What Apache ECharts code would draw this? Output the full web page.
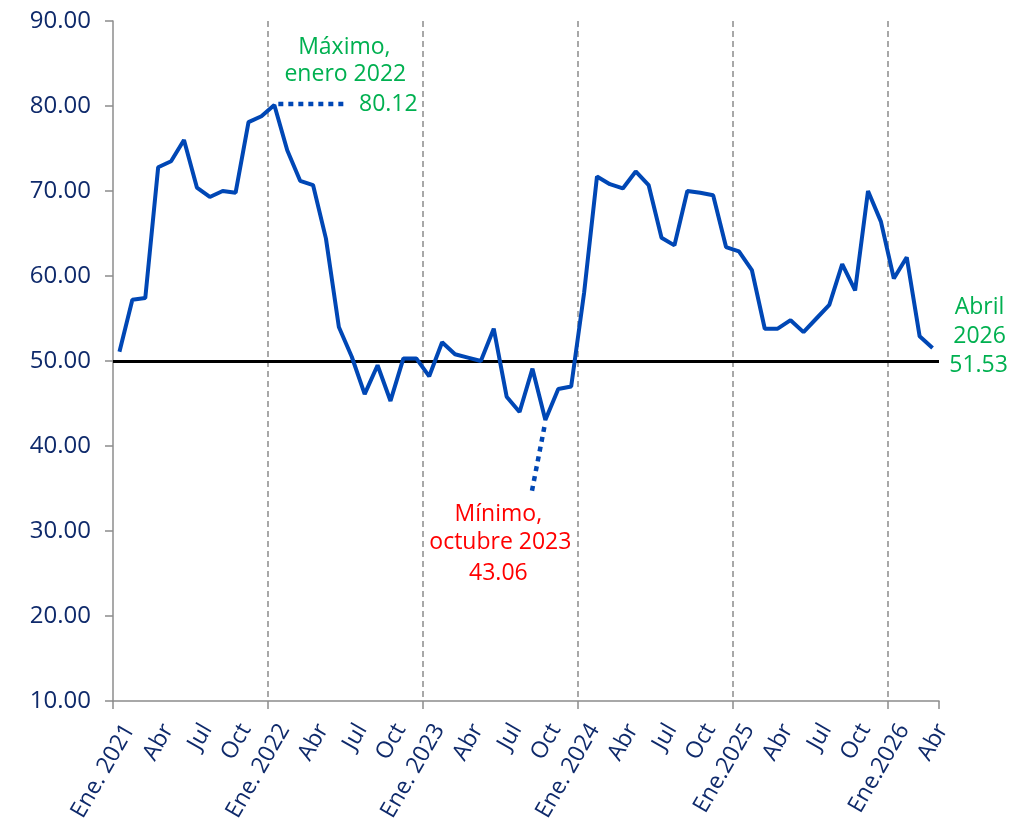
<!DOCTYPE html>
<html>
<head>
<meta charset="utf-8">
<script src="https://cdn.jsdelivr.net/npm/echarts@6/dist/echarts.min.js"></script>
<style>
html,body{margin:0;padding:0;background:#fff;}
#chart{width:1024px;height:827px;}
</style>
</head>
<body>
<div id="chart"></div>
<script>
// ---- data ----
const months = ['Ene','Feb','Mar','Abr','May','Jun','Jul','Ago','Sep','Oct','Nov','Dic'];
const years = [2021, 2022, 2023, 2024, 2025, 2026];
const tickLabels = {
  0: 'Ene. 2021', 12: 'Ene. 2022', 24: 'Ene. 2023', 36: 'Ene. 2024', 48: 'Ene.2025', 60: 'Ene.2026'
};
const quarterLabels = ['Ene', 'Abr', 'Jul', 'Oct'];
const values = [
  51.1, 57.2, 57.4, 72.8, 73.5, 76.0, 70.4, 69.3, 70.0, 69.8, 78.1, 78.8,
  80.12, 74.8, 71.2, 70.7, 64.4, 54.0, 50.5, 46.1, 49.5, 45.3, 50.3, 50.3,
  48.2, 52.2, 50.8, 50.4, 50.0, 53.8, 45.8, 44.0, 49.1, 43.06, 46.7, 47.0,
  58.0, 71.7, 70.8, 70.3, 72.3, 70.7, 64.5, 63.6, 70.0, 69.8, 69.5, 63.4,
  62.9, 60.7, 53.8, 53.8, 54.8, 53.4, 55.0, 56.6, 61.4, 58.3, 70.0, 66.4,
  59.7, 62.2, 52.9, 51.53
];
const threshold = 50;
const maxIndex = 12, minIndex = 33, lastIndex = 63;
const maxText = ['Máximo,', 'enero 2022'];
const maxValueText = '80.12';
const minText = ['Mínimo,', 'octubre 2023', '43.06'];
const lastText = ['Abril', '2026', '51.53'];

const categories = [];
years.forEach(y => months.forEach((m, i) => {
  if (categories.length < values.length) categories.push(m + ' ' + y);
}));

const navy = '#0f2a6b';
const green = '#00b050';
const red = '#ff0000';
const blue = '#0047b5';
const axisGray = '#8c8c8c';
const font = '"Open Sans", "Noto Sans", sans-serif';

const chart = echarts.init(document.getElementById('chart'));
chart.setOption({
  animation: false,
  backgroundColor: '#fff',
  grid: { left: 113, right: 85, top: 21, bottom: 126, containLabel: false },
  xAxis: {
    type: 'category',
    data: categories,
    boundaryGap: true,
    axisLine: { lineStyle: { color: axisGray, width: 1.5 } },
    axisTick: { show: true, interval: (i) => i % 12 === 0, length: 8, lineStyle: { color: axisGray, width: 1.5 } },
    splitLine: {
      show: true, showMinLine: false, showMaxLine: false,
      interval: (i) => i % 12 === 0,
      lineStyle: { color: axisGray, width: 1.5, type: [6, 4] }
    },
    axisLabel: {
      interval: (i) => i % 3 === 0,
      rotate: 60,
      margin: 19,
      verticalAlign: 'top',
      color: navy,
      fontFamily: font,
      fontSize: 23,
      formatter: (v, i) => tickLabels[i] !== undefined ? tickLabels[i] : quarterLabels[(i % 12) / 3]
    }
  },
  yAxis: {
    type: 'value',
    min: 10, max: 90, interval: 10,
    axisLine: { show: true, lineStyle: { color: axisGray, width: 1.5 } },
    axisTick: { show: true, length: 8, lineStyle: { color: axisGray, width: 1.5 } },
    splitLine: { show: false },
    axisLabel: { color: navy, fontFamily: font, fontSize: 24, margin: 22, formatter: (v) => v.toFixed(2) }
  },
  series: [{
    type: 'line',
    data: values,
    symbol: 'none',
    lineStyle: { color: blue, width: 4 },
    z: 3,
    markLine: {
      silent: true,
      symbol: 'none',
      label: { show: false },
      lineStyle: { color: '#000', width: 3, type: 'solid' },
      data: [{ yAxis: threshold }],
      z: 2
    }
  }]
});

function px(i, v) { return chart.convertToPixel({ gridIndex: 0 }, [i, v]); }
const pMax = px(maxIndex, values[maxIndex]);
const pMin = px(minIndex, values[minIndex]);
const pLast = px(lastIndex, values[lastIndex]);
const txt = (x, y, s, color) => ({
  type: 'text', x: x, y: y,
  style: { text: s, fill: color, font: '23px ' + font, textAlign: 'center', textVerticalAlign: 'middle' }
});
const lead = (x1, y1, x2, y2) => ({
  type: 'line', shape: { x1, y1, x2, y2 },
  style: { stroke: blue, lineWidth: 4.5, lineDash: [5, 5] }
});
chart.setOption({
  graphic: [
    lead(pMax[0] + 4, pMax[1] - 1, pMax[0] + 72, pMax[1] - 1),
    txt(pMax[0] + 70, pMax[1] - 58, maxText[0], green),
    txt(pMax[0] + 71, pMax[1] - 31, maxText[1], green),
    txt(pMax[0] + 114, pMax[1] - 1, maxValueText, green),
    lead(pMin[0] - 1, pMin[1] + 7, pMin[0] - 14, pMin[1] + 74),
    txt(pMin[0] - 47, pMin[1] + 94, minText[0], red),
    txt(pMin[0] - 45, pMin[1] + 122, minText[1], red),
    txt(pMin[0] - 47, pMin[1] + 153, minText[2], red),
    txt(pLast[0] + 47, pLast[1] - 41, lastText[0], green),
    txt(pLast[0] + 47, pLast[1] - 12, lastText[1], green),
    txt(pLast[0] + 46, pLast[1] + 17, lastText[2], green)
  ]
});
</script>
</body>
</html>
